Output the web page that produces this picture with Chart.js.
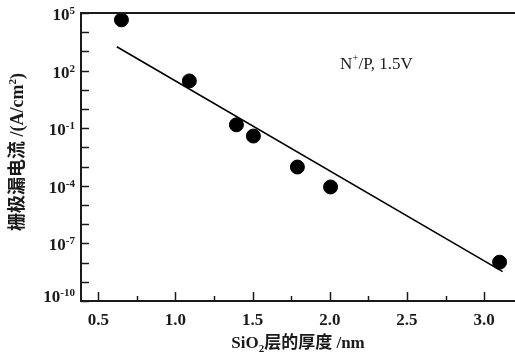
<!DOCTYPE html>
<html>
<head>
<meta charset="utf-8">
<script src="https://cdn.jsdelivr.net/npm/chart.js@4"></script>
<style>
  html, body { margin: 0; padding: 0; background: #fff; }
  canvas { display: block; }
</style>
</head>
<body>
<canvas id="leakChart" width="515" height="356"></canvas>
<script>
// SiO2 thickness (nm) vs gate leakage current (A/cm2)
const thickness = [0.65, 1.09, 1.395, 1.505, 1.79, 2.005, 3.10];
const leakage = [4.4e4, 29, 0.15, 0.039, 9.5e-4, 8.7e-5, 1.05e-8];

// straight fit line, two end points
const fitX = [0.62, 3.12];
const fitY = [1.76e3, 3.4e-9];

// axis ticks
const xLabels = [0.5, 1.0, 1.5, 2.0, 2.5, 3.0];
const xMinor = [0.75, 1.25, 1.75, 2.25, 2.75];
const yLabelExp = [5, 2, -1, -4, -7, -10];

const serif = '"Liberation Serif", "Times New Roman", "Noto Sans CJK SC", serif';
const ink = '#1a1a1a';

// draws axes, inward ticks, labels (with super/subscripts) and the note
const axesPlugin = {
    id: 'axesPlugin',
    afterDraw(chart) {
        const ctx = chart.ctx;
        const a = chart.chartArea;
        const x = chart.scales.x, y = chart.scales.y;
        ctx.save();
        ctx.strokeStyle = ink;
        ctx.fillStyle = ink;

        // frame: left, bottom, top
        ctx.lineWidth = 2;
        ctx.beginPath();
        ctx.moveTo(a.right, a.top);
        ctx.lineTo(a.left, a.top);
        ctx.lineTo(a.left, a.bottom);
        ctx.lineTo(a.right, a.bottom);
        ctx.stroke();

        // y ticks, one per decade, pointing right
        ctx.lineWidth = 1.5;
        for (let e = -10; e <= 5; e++) {
            const py = Math.round(y.getPixelForValue(Math.pow(10, e))) + 0.5;
            ctx.beginPath();
            ctx.moveTo(a.left, py);
            ctx.lineTo(a.left + 8, py);
            ctx.stroke();
        }
        // x ticks, pointing up
        xLabels.forEach(v => {
            const px = Math.round(x.getPixelForValue(v)) + 0.5;
            ctx.beginPath();
            ctx.moveTo(px, a.bottom);
            ctx.lineTo(px, a.bottom - 9);
            ctx.stroke();
        });
        xMinor.forEach(v => {
            const px = Math.round(x.getPixelForValue(v)) + 0.5;
            ctx.beginPath();
            ctx.moveTo(px, a.bottom);
            ctx.lineTo(px, a.bottom - 5);
            ctx.stroke();
        });

        // x tick labels
        ctx.font = 'bold 17px ' + serif;
        ctx.textAlign = 'center';
        ctx.textBaseline = 'middle';
        xLabels.forEach(v => {
            ctx.fillText(v.toFixed(1), x.getPixelForValue(v), 321);
        });

        // y tick labels: 10^n
        const right = 75;
        yLabelExp.forEach(e => {
            let py = y.getPixelForValue(Math.pow(10, e)) + 2;
            if (e === -10) py = a.bottom - 4;
            ctx.font = 'bold 11px ' + serif;
            const sup = e < 0 ? '-' + Math.abs(e) : String(e);
            const w = ctx.measureText(sup).width;
            ctx.textAlign = 'left';
            ctx.textBaseline = 'alphabetic';
            ctx.fillText(sup, right - w, py - 1);
            ctx.font = 'bold 17px ' + serif;
            ctx.textAlign = 'right';
            ctx.fillText('10', right - w, py + 5);
        });

        // y axis title, rotated
        ctx.save();
        ctx.translate(23, 152);
        ctx.rotate(-Math.PI / 2);
        drawRuns(ctx, [
            ['栅极漏电流 /(A/cm', 'bold 18px ' + serif, 0],
            ['2', 'bold 11px ' + serif, -7],
            [')', 'bold 18px ' + serif, 0]
        ], 0, 0);
        ctx.restore();

        // x axis title
        drawRuns(ctx, [
            ['SiO', 'bold 17px ' + serif, 0],
            ['2', 'bold 11px ' + serif, 4],
            ['层的厚度 /nm', 'bold 17px ' + serif, 0]
        ], (a.left + a.right) / 2, 348);

        // condition note
        ctx.textAlign = 'left';
        ctx.textBaseline = 'alphabetic';
        ctx.font = '17px ' + serif;
        ctx.fillText('N', 340, 69);
        let nx = 340 + ctx.measureText('N').width;
        ctx.font = '11px ' + serif;
        ctx.fillText('+', nx, 61);
        nx += ctx.measureText('+').width;
        ctx.font = '17px ' + serif;
        ctx.fillText('/P, 1.5V', nx, 69);

        ctx.restore();
    }
};

// draw text pieces centred at (cx, baseline), each with its own font and y shift
function drawRuns(ctx, runs, cx, base) {
    ctx.textAlign = 'left';
    ctx.textBaseline = 'alphabetic';
    let total = 0;
    runs.forEach(r => { ctx.font = r[1]; total += ctx.measureText(r[0]).width; });
    let px = cx - total / 2;
    runs.forEach(r => {
        ctx.font = r[1];
        ctx.fillText(r[0], px, base + r[2]);
        px += ctx.measureText(r[0]).width;
    });
}

const ctx = document.getElementById('leakChart').getContext('2d');

let chart = new Chart(ctx, {
    type: 'scatter',
    data: {
        datasets: [
            {
                label: 'measured',
                data: thickness.map((t, i) => ({ x: t, y: leakage[i] })),
                backgroundColor: '#000',
                borderColor: '#000',
                pointRadius: 7,
                showLine: false
            },
            {
                label: 'fit',
                data: fitX.map((t, i) => ({ x: t, y: fitY[i] })),
                borderColor: '#000',
                borderWidth: 1.6,
                pointRadius: 0,
                showLine: true,
                fill: false
            }
        ]
    },
    options: {
        responsive: false,
        animation: false,
        layout: { autoPadding: false, padding: { top: 13, right: 0, left: 0, bottom: 0 } },
        plugins: {
            legend: { display: false },
            tooltip: { enabled: false }
        },
        scales: {
            x: {
                type: 'linear',
                min: 0.388,
                max: 3.2,
                ticks: { display: false },
                grid: { display: false },
                border: { display: false },
                afterFit: s => { s.height = 55; }
            },
            y: {
                type: 'logarithmic',
                min: 1e-10,
                max: 1e5,
                ticks: { display: false },
                grid: { display: false },
                border: { display: false },
                afterFit: s => { s.width = 81; }
            }
        }
    },
    plugins: [axesPlugin]
});
</script>
</body>
</html>
